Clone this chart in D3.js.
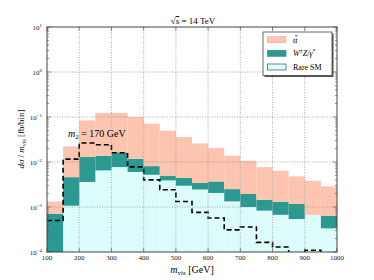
<!DOCTYPE html>
<meta charset="utf-8">
<style>
    body { margin: 0; background: #fff; }
    svg { font-family: "Liberation Serif", "DejaVu Serif", serif; }
    .grid line { stroke: #888; stroke-dasharray: 1,1.5; stroke-width: 0.7; }
    .tick-label { font-size: 7px; fill: #222; }
</style>
<svg width="374" height="280"></svg>
<script src="https://cdn.jsdelivr.net/npm/d3@7"></script>
<script>

    // bin lower edges (GeV), 50 GeV wide
    var binLow = [100, 150, 200, 250, 300, 350, 400, 450, 500, 550, 600, 650, 700, 750, 800, 850, 900, 950];
    // stacked components [fb/bin]
    var rareSM = [0, 0.00107, 0.0036, 0.0065, 0.0077, 0.0060, 0.0052, 0.0039, 0.00297, 0.00245, 0.00205, 0.00133, 0.0010, 0.00083, 0.00067, 0.00054, 0.00067, 0.000335];
    var wz = [0.00071, 0.00353, 0.0093, 0.0073, 0.0087, 0.0058, 0.0029, 0.00107, 0.00148, 0.0010, 0.00165, 0.00117, 0.00095, 0.00062, 0.00064, 0.00064, 0, 0.000305];
    var ttbar = [0.00062, 0.0176, 0.0711, 0.109, 0.107, 0.088, 0.063, 0.0447, 0.0316, 0.0224, 0.0168, 0.0113, 0.00875, 0.00625, 0.00509, 0.00362, 0.00317, 0.00223];
    // signal, m2 = 170 GeV
    var signal = [0.0005, 0.0116, 0.0264, 0.0242, 0.0160, 0.0078, 0.0040, 0.00242, 0.00133, 0.00076, 0.00057, 0.00031, 0.00036, 0.000164, 0.000129, 0, 0.000109, 0];
    var xTicks = [100, 200, 300, 400, 500, 600, 700, 800, 900, 1000];
    var yTicks = [-4, -3, -2, -1, 0, 1];

    var svg = d3.select("svg");
    var pl = 47, pr = 337, pt = 27, pb = 252;
    var binW = 50;

    var x = d3.scaleLinear().domain([100, 1000]).range([pl, pr]);
    var y = d3.scaleLog().domain([1e-4, 10]).range([pb, pt]).clamp(true);

    var colors = { rare: "#dcfcfb", wz: "#2b9991", tt: "#fdc4af" };

    var rows = binLow.map(function (b, i) {
        return { lo: b, rare: rareSM[i], wz: wz[i], tt: ttbar[i] };
    });
    var stack = d3.stack().keys(["rare", "wz", "tt"]);
    var layers = stack(rows);

    svg.append("clipPath").attr("id", "clip")
        .append("rect").attr("x", pl).attr("y", pt)
        .attr("width", pr - pl).attr("height", pb - pt);

    var plot = svg.append("g").attr("clip-path", "url(#clip)");

    plot.selectAll("g.layer")
        .data(layers)
        .enter().append("g")
        .attr("class", "layer")
        .attr("fill", function (d) { return colors[d.key]; })
        .selectAll("rect")
        .data(function (d) { return d; })
        .enter().append("rect")
        .attr("x", function (d) { return x(d.data.lo); })
        .attr("width", function (d) { return x(d.data.lo + binW) - x(d.data.lo); })
        .attr("y", function (d) { return d[1] > 0 ? y(d[1]) : pb; })
        .attr("height", function (d) {
            if (d[1] <= d[0]) return 0;
            var y0 = d[0] > 0 ? y(d[0]) : pb;
            return y0 - y(d[1]);
        });

    // grid on top of bars
    var grid = svg.append("g").attr("class", "grid");
    grid.selectAll("line.v")
        .data(xTicks.slice(1, -1))
        .enter().append("line")
        .attr("x1", function (d) { return x(d); }).attr("x2", function (d) { return x(d); })
        .attr("y1", pt).attr("y2", pb);
    grid.selectAll("line.h")
        .data(yTicks.slice(1, -1))
        .enter().append("line")
        .attr("y1", function (d) { return y(Math.pow(10, d)); })
        .attr("y2", function (d) { return y(Math.pow(10, d)); })
        .attr("x1", pl).attr("x2", pr);

    // signal step line
    var pts = [];
    binLow.forEach(function (b, i) {
        var v = signal[i] > 0 ? signal[i] : 1e-6;
        pts.push([b, v], [b + binW, v]);
    });
    var yl = d3.scaleLog().domain([1e-4, 10]).range([pb, pt]);
    plot.append("path")
        .datum(pts)
        .attr("fill", "none")
        .attr("stroke", "#000")
        .attr("stroke-width", 1.6)
        .attr("stroke-dasharray", "5,3")
        .attr("d", d3.line()
            .x(function (d) { return x(d[0]); })
            .y(function (d) { return Math.min(yl(d[1]), pb + 3); }));

    // frame
    svg.append("rect")
        .attr("x", pl).attr("y", pt)
        .attr("width", pr - pl).attr("height", pb - pt)
        .attr("fill", "none").attr("stroke", "#444").attr("stroke-width", 1);

    // ticks
    var ticks = svg.append("g").attr("stroke", "#444").attr("stroke-width", 0.6);
    xTicks.forEach(function (t) {
        ticks.append("line").attr("x1", x(t)).attr("x2", x(t)).attr("y1", pb).attr("y2", pb - 4);
        ticks.append("line").attr("x1", x(t)).attr("x2", x(t)).attr("y1", pt).attr("y2", pt + 4);
    });
    yTicks.forEach(function (e) {
        ticks.append("line").attr("y1", y(Math.pow(10, e))).attr("y2", y(Math.pow(10, e)))
            .attr("x1", pl).attr("x2", pl + 4);
        ticks.append("line").attr("y1", y(Math.pow(10, e))).attr("y2", y(Math.pow(10, e)))
            .attr("x1", pr).attr("x2", pr - 4);
        if (e < 1) {
            d3.range(2, 10).forEach(function (m) {
                var yy = y(m * Math.pow(10, e));
                ticks.append("line").attr("y1", yy).attr("y2", yy).attr("x1", pl).attr("x2", pl + 2);
                ticks.append("line").attr("y1", yy).attr("y2", yy).attr("x1", pr).attr("x2", pr - 2);
            });
        }
    });

    svg.selectAll("text.xt")
        .data(xTicks)
        .enter().append("text")
        .attr("class", "tick-label")
        .attr("x", function (d) { return x(d); })
        .attr("y", 260)
        .attr("text-anchor", "middle")
        .text(function (d) { return d; });

    var yt = svg.selectAll("text.yt")
        .data(yTicks)
        .enter().append("text")
        .attr("class", "tick-label")
        .attr("x", 42)
        .attr("y", function (d) { return y(Math.pow(10, d)) + 2.5; })
        .attr("text-anchor", "end");
    yt.append("tspan").text("10");
    yt.append("tspan").attr("dy", -3).attr("font-size", "5px")
        .text(function (d) { return d < 0 ? "\u2212" + (-d) : d; });

    // title
    var title = svg.append("text")
        .attr("x", 193).attr("y", 24)
        .attr("text-anchor", "middle").attr("font-size", "9px");
    title.append("tspan").text("\u221A");
    title.append("tspan").attr("font-style", "italic").attr("text-decoration", "overline").text("s");
    title.append("tspan").text(" = 14 TeV");

    // axis labels
    var xl = svg.append("text")
        .attr("x", 192).attr("y", 273)
        .attr("text-anchor", "middle").attr("font-size", "10px");
    xl.append("tspan").attr("font-style", "italic").text("m");
    xl.append("tspan").attr("font-size", "7px").attr("dy", 2).text("vis");
    xl.append("tspan").attr("dy", -2).text(" [GeV]");

    var ylab = svg.append("text")
        .attr("transform", "translate(24,139) rotate(-90)")
        .attr("text-anchor", "middle").attr("font-size", "9px");
    ylab.append("tspan").attr("font-style", "italic").text("d\u03C3");
    ylab.append("tspan").text(" / ");
    ylab.append("tspan").attr("font-style", "italic").text("m");
    ylab.append("tspan").attr("font-size", "6px").attr("dy", 2).text("vis");
    ylab.append("tspan").attr("dy", -2).text(" [fb/bin]");

    // annotation
    var ann = svg.append("text")
        .attr("x", 68).attr("y", 137).attr("font-size", "10px");
    ann.append("tspan").attr("font-style", "italic").text("m");
    ann.append("tspan").attr("font-size", "7px").attr("dy", 2).text("2");
    ann.append("tspan").attr("dy", -2).text(" = 170 GeV");

    // legend
    var lg = svg.append("g");
    lg.append("rect").attr("x", 264.5).attr("y", 33.5).attr("width", 69).attr("height", 43.5)
        .attr("fill", "#555");
    lg.append("rect").attr("x", 263).attr("y", 32).attr("width", 69).attr("height", 43.5)
        .attr("fill", "#fff").attr("stroke", "#444").attr("stroke-width", 0.8);
    var entries = [
        { key: "tt", y: 39.7 },
        { key: "wz", y: 53.3 },
        { key: "rare", y: 67 }
    ];
    lg.selectAll("rect.sw")
        .data(entries)
        .enter().append("rect")
        .attr("x", 267.5).attr("y", function (d) { return d.y - 3; })
        .attr("width", 18.5).attr("height", 6)
        .attr("fill", function (d) { return colors[d.key]; })
        .attr("stroke", function (d) { return d.key === "rare" ? "#333" : d3.color(colors[d.key]).darker(0.3); })
        .attr("stroke-width", 0.6);

    var t1 = lg.append("text").attr("x", 293).attr("y", 42.5).attr("font-size", "8px").attr("font-style", "italic");
    t1.append("tspan").text("t");
    t1.append("tspan").attr("text-decoration", "overline").text("t");
    var t2 = lg.append("text").attr("x", 293).attr("y", 56).attr("font-size", "8px");
    t2.append("tspan").attr("font-style", "italic").text("W");
    t2.append("tspan").attr("font-size", "5.5px").attr("dy", -3).text("\u00B1");
    t2.append("tspan").attr("dy", 3).attr("font-style", "italic").text("Z/\u03B3");
    t2.append("tspan").attr("font-size", "5.5px").attr("dy", -3).text("*");
    lg.append("text").attr("x", 293).attr("y", 70).attr("font-size", "8px").text("Rare SM");

</script>
